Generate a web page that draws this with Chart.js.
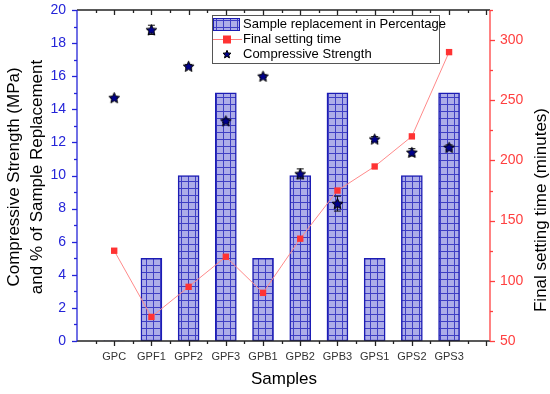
<!DOCTYPE html>
<html>
<head>
<meta charset="utf-8">
<script src="https://cdn.jsdelivr.net/npm/chart.js@4.4.0/dist/chart.umd.min.js"></script>
<style>
  html, body { margin: 0; padding: 0; background: #fff; }
</style>
</head>
<body>
<canvas id="chart" width="550" height="394"></canvas>
<script>
const samples = ['GPC', 'GPF1', 'GPF2', 'GPF3', 'GPB1', 'GPB2', 'GPB3', 'GPS1', 'GPS2', 'GPS3'];
const replacement = [0, 5, 10, 15, 5, 10, 15, 5, 10, 15];
const settingTime = [125, 70, 95, 120, 90, 135, 175, 195, 220, 290];
const strength = [14.7, 18.8, 16.6, 13.3, 16.0, 10.1, 8.3, 12.2, 11.4, 11.7];
const strengthErr = [0.05, 0.28, 0.1, 0.1, 0.08, 0.3, 0.45, 0.15, 0.22, 0.15];

const FONT = 'Arial, "Liberation Sans", sans-serif';
const BLUE = '#2424d8';
const RED = '#ff4040';

const canvas = document.getElementById('chart');
const ctx = canvas.getContext('2d');

// grid fill for the bars
function makePattern() {
  const c = document.createElement('canvas');
  c.width = 7; c.height = 7;
  const g = c.getContext('2d');
  g.fillStyle = '#adade8';
  g.fillRect(0, 0, 7, 7);
  g.fillStyle = '#3f3fc4';
  g.fillRect(6, 0, 1, 7);
  g.fillRect(0, 6, 7, 1);
  return ctx.createPattern(c, 'repeat');
}

// filled star marker
function makeStar(size) {
  const c = document.createElement('canvas');
  c.width = size; c.height = size;
  const g = c.getContext('2d');
  const cx = size / 2, cy = size / 2 + 0.5, R = size / 2 - 0.8, r = R * 0.45;
  g.beginPath();
  for (let i = 0; i < 10; i++) {
    const rad = i % 2 ? r : R;
    const a = -Math.PI / 2 + i * Math.PI / 5;
    g.lineTo(cx + rad * Math.cos(a), cy + rad * Math.sin(a));
  }
  g.closePath();
  g.fillStyle = '#00008c';
  g.fill();
  g.lineWidth = 1;
  g.strokeStyle = '#000';
  g.stroke();
  return c;
}

const barFill = makePattern();
const star = makeStar(13);
const smallStar = makeStar(10);

function line(c, x1, y1, x2, y2) {
  c.beginPath(); c.moveTo(x1, y1); c.lineTo(x2, y2); c.stroke();
}

// drop the label overhang padding so the plot box sits where we want it
function fixSize(w, h) {
  return s => {
    if (w) s.width = w;
    if (h) s.height = h;
    s.paddingTop = 0; s.paddingBottom = 0;
    s.paddingLeft = 0; s.paddingRight = 0;
  };
}

// error bars, drawn right after the bars so stars sit on top
const errorBars = {
  id: 'errorBars',
  afterDatasetDraw(chart, args) {
    if (args.index !== 2) return;
    const c = chart.ctx, x = chart.scales.x, y = chart.scales.y;
    c.save();
    c.strokeStyle = '#111';
    c.lineWidth = 1;
    strength.forEach((v, i) => {
      const e = strengthErr[i];
      const px = x.getPixelForValue(i);
      const top = y.getPixelForValue(v + e), bot = y.getPixelForValue(v - e);
      line(c, px, top, px, bot);
      line(c, px - 3.5, top, px + 3.5, top);
      line(c, px - 3.5, bot, px + 3.5, bot);
    });
    c.restore();
  }
};

// axis lines, minor/major ticks, titles, legend box
const frame = {
  id: 'frame',
  afterDraw(chart) {
    const c = chart.ctx, a = chart.chartArea;
    const x = chart.scales.x, yl = chart.scales.y, yr = chart.scales.y1;
    c.save();
    c.lineWidth = 1.3;
    c.strokeStyle = '#222';
    line(c, a.left, a.top, a.right, a.top);
    line(c, a.left, a.bottom, a.right, a.bottom);
    for (let v = -0.5; v <= 10.01; v += 0.5) {
      const px = Math.round(x.getPixelForValue(v)) + 0.5;
      const len = Number.isInteger(v) ? 5 : 3;
      line(c, px, a.bottom, px, a.bottom + len);
      line(c, px, a.top, px, a.top + len);
    }
    c.strokeStyle = BLUE;
    line(c, a.left, a.top, a.left, a.bottom);
    for (let v = 0; v <= 20; v++) {
      const py = Math.round(yl.getPixelForValue(v)) + 0.5;
      line(c, a.left - (v % 2 ? 3 : 5), py, a.left, py);
    }
    c.strokeStyle = RED;
    line(c, a.right, a.top, a.right, a.bottom);
    for (let v = 50; v <= 325; v += 25) {
      const py = Math.round(yr.getPixelForValue(v)) + 0.5;
      line(c, a.right, py, a.right + (v % 50 ? 3 : 5), py);
    }

    // titles
    c.fillStyle = '#000';
    c.font = '17px ' + FONT;
    c.textAlign = 'center';
    c.textBaseline = 'alphabetic';
    [['Compressive Strength (MPa)', 19], ['and % of Sample Replacement', 42]].forEach(([t, px]) => {
      c.save(); c.translate(px, 177); c.rotate(-Math.PI / 2); c.fillText(t, 0, 0); c.restore();
    });
    c.save(); c.translate(546, 210); c.rotate(-Math.PI / 2);
    c.fillText('Final setting time (minutes)', 0, 0); c.restore();
    c.fillText('Samples', 284, 384);

    // legend
    const lx = 212, ly = 15, lw = 227, lh = 48;
    c.fillStyle = '#fff';
    c.fillRect(lx, ly, lw, lh);
    c.lineWidth = 1;
    c.strokeStyle = '#555';
    c.strokeRect(lx + 0.5, ly + 0.5, lw, lh);
    c.fillStyle = barFill;
    c.fillRect(lx + 1, ly + 3, 27, 13);
    c.strokeStyle = '#1c1cb4';
    c.strokeRect(lx + 1.5, ly + 3.5, 26, 12);
    c.strokeStyle = '#ff8080';
    line(c, lx + 1, ly + 24.5, lx + 30, ly + 24.5);
    c.fillStyle = '#ff3333';
    c.fillRect(lx + 11, ly + 20.5, 8, 8);
    c.drawImage(smallStar, lx + 10, ly + 34);
    c.fillStyle = '#000';
    c.font = '13px ' + FONT;
    c.textAlign = 'left';
    c.textBaseline = 'middle';
    c.fillText('Sample replacement in Percentage', lx + 31, ly + 9.5);
    c.fillText('Final setting time', lx + 31, ly + 24.5);
    c.fillText('Compressive Strength', lx + 31, ly + 39.5);
    c.restore();
  }
};

new Chart(ctx, {
  data: {
    datasets: [
      {
        type: 'scatter',
        label: 'Compressive Strength',
        data: strength.map((v, i) => ({ x: i, y: v })),
        yAxisID: 'y',
        pointStyle: star,
        order: 1
      },
      {
        type: 'line',
        label: 'Final setting time',
        data: settingTime.map((v, i) => ({ x: i, y: v })),
        yAxisID: 'y1',
        borderColor: '#ff8a8a',
        borderWidth: 1,
        pointStyle: 'rect',
        pointRadius: 4.5,
        pointBackgroundColor: '#ff3333',
        pointBorderColor: '#ff3333',
        pointBorderWidth: 0,
        tension: 0,
        order: 2
      },
      {
        type: 'bar',
        label: 'Sample replacement in Percentage',
        data: replacement.map((v, i) => ({ x: i, y: v })),
        yAxisID: 'y',
        backgroundColor: barFill,
        borderColor: '#1c1cb4',
        borderWidth: c => (c.raw && c.raw.y === 0 ? 0 : 1.5),
        borderSkipped: false,
        barThickness: 21,
        order: 3
      }
    ]
  },
  options: {
    responsive: false,
    animation: false,
    layout: { autoPadding: false, padding: { top: 10, left: 0, right: 0, bottom: 0 } },
    plugins: { legend: { display: false }, tooltip: { enabled: false } },
    scales: {
      x: {
        type: 'linear',
        offset: false,
        min: -1,
        max: 10.1,
        grid: { display: false, drawTicks: false },
        border: { display: false },
        ticks: {
          stepSize: 1,
          padding: 9,
          autoSkip: false,
          maxRotation: 0,
          color: '#333',
          font: { family: FONT, size: 11 },
          callback: v => (Number.isInteger(v) && v >= 0 && v < samples.length ? samples[v] : '')
        },
        afterFit: fixSize(0, 53)
      },
      y: {
        position: 'left',
        min: 0,
        max: 20,
        grid: { display: false, drawTicks: false },
        border: { display: false },
        ticks: {
          stepSize: 2,
          padding: 11,
          color: BLUE,
          font: { family: FONT, size: 14 }
        },
        afterFit: fixSize(77, 0)
      },
      y1: {
        position: 'right',
        min: 50,
        max: 325,
        grid: { display: false, drawTicks: false },
        border: { display: false },
        ticks: {
          stepSize: 50,
          padding: 10,
          color: RED,
          font: { family: FONT, size: 14 },
          callback: v => (v % 50 === 0 ? v : '')
        },
        afterFit: fixSize(60, 0)
      }
    }
  },
  plugins: [errorBars, frame]
});
</script>
</body>
</html>
